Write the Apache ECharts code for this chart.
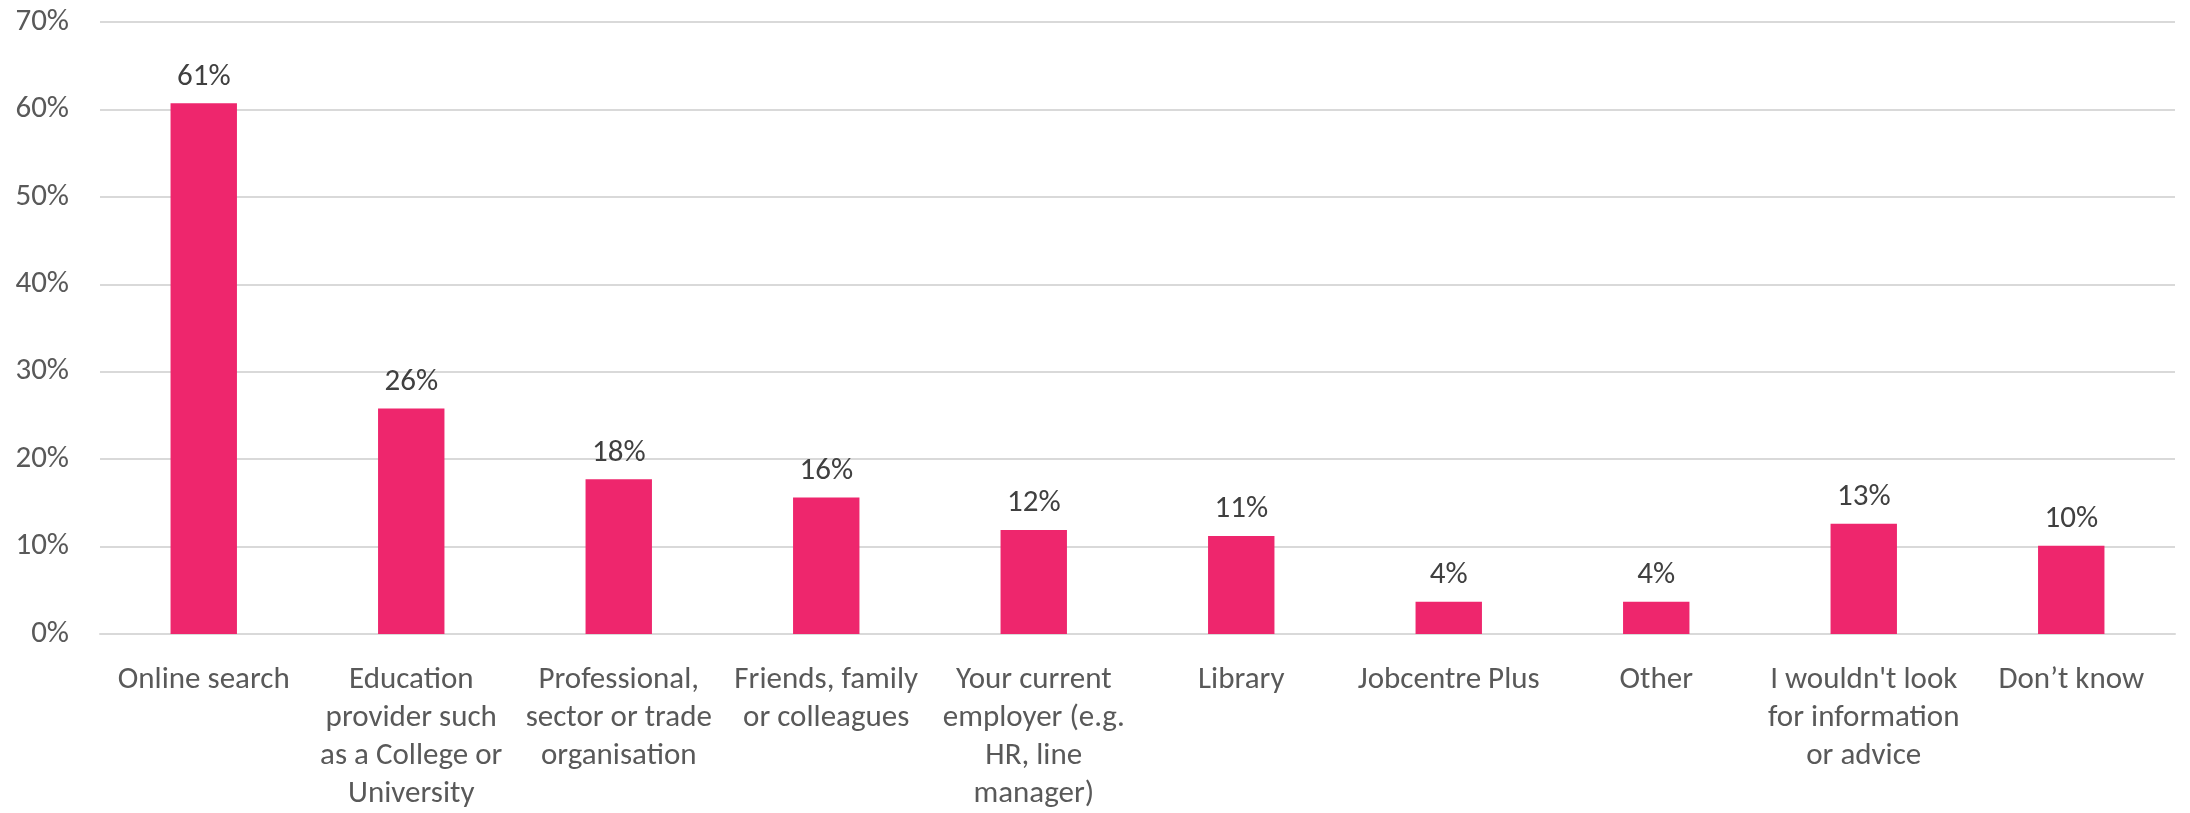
<!DOCTYPE html>
<html>
<head>
<meta charset="utf-8">
<script src="https://cdn.jsdelivr.net/npm/echarts@6/dist/echarts.min.js"></script>
<style>
html,body{margin:0;padding:0;background:#fff;}
#chart{width:2190px;height:813px;}
</style>
</head>
<body>
<div id="chart"></div>
<script>
const categories = [
  "Online search",
  "Education\nprovider such\nas a College or\nUniversity",
  "Professional,\nsector or trade\norganisation",
  "Friends, family\nor colleagues",
  "Your current\nemployer (e.g.\nHR, line\nmanager)",
  "Library",
  "Jobcentre Plus",
  "Other",
  "I wouldn't look\nfor information\nor advice",
  "Don\u2019t know"
];
const values = [60.7, 25.8, 17.7, 15.6, 11.9, 11.2, 3.7, 3.7, 12.6, 10.1];
const yTicks = [0, 10, 20, 30, 40, 50, 60, 70];

const FONT = "Carlito, Calibri, Lato, sans-serif";
const chart = echarts.init(document.getElementById('chart'), null, {renderer: 'canvas'});
chart.setOption({
  animation: false,
  backgroundColor: '#ffffff',
  grid: {left: 100, right: 15, top: 22, bottom: 174, containLabel: false},
  xAxis: {
    type: 'category',
    data: categories,
    axisLine: {show: true, lineStyle: {color: '#d9d9d9', width: 2}},
    axisTick: {show: false},
    axisLabel: {
      interval: 0, margin: 27, color: '#595959',
      fontFamily: FONT, fontSize: 31, lineHeight: 38
    }
  },
  yAxis: {
    type: 'value',
    min: yTicks[0], max: yTicks[yTicks.length - 1], interval: 10,
    axisLine: {show: false},
    axisTick: {show: false},
    splitLine: {lineStyle: {color: '#d9d9d9', width: 2}},
    axisLabel: {
      margin: 31, color: '#595959', fontFamily: FONT, fontSize: 31,
      formatter: v => v + '%'
    }
  },
  series: [{
    type: 'bar',
    data: values,
    barWidth: '32%',
    itemStyle: {color: '#EE266D'},
    label: {
      show: true, position: 'top', distance: 11,
      color: '#404040', fontFamily: FONT, fontSize: 31,
      formatter: p => Math.round(p.value) + '%'
    }
  }]
});
</script>
</body>
</html>
